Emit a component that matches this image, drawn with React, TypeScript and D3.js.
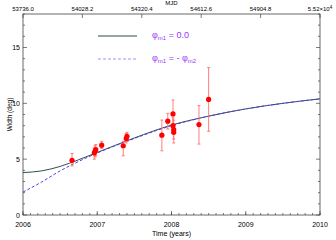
import React, { useEffect, useRef } from 'react';
import * as d3 from 'd3';

// model curves
const curveYears = [2006, 2006.25, 2006.5, 2006.75, 2007, 2007.5, 2008, 2008.5, 2009, 2009.5, 2010];
const solidWidth = [3.8, 3.95, 4.35, 4.95, 5.6, 6.9, 8.05, 8.85, 9.5, 10.0, 10.4];
const dashedWidth = [2.05, 2.95, 3.95, 4.8, 5.55, 6.85, 8.0, 8.85, 9.5, 10.0, 10.4];

// measured widths with error bars
const obsYear = [2006.66, 2006.96, 2006.97, 2006.98, 2007.06, 2007.35, 2007.39, 2007.4, 2007.87, 2007.95, 2008.02, 2008.02, 2008.03, 2008.03, 2008.37, 2008.5];
const obsWidth = [4.9, 5.55, 5.7, 5.85, 6.25, 6.2, 6.85, 7.05, 7.15, 8.4, 9.05, 8.0, 7.65, 7.4, 8.1, 10.35];
const obsLow = [4.4, 5.0, 5.2, 5.3, 5.95, 5.3, 6.45, 6.6, 5.75, 7.7, 7.6, 7.3, 6.45, 6.8, 6.35, 7.5];
const obsHigh = [5.5, 6.0, 6.2, 6.3, 6.6, 6.6, 7.3, 7.4, 8.5, 9.1, 10.3, 8.7, 8.5, 8.0, 9.8, 13.2];

const yearTicks = [2006, 2007, 2008, 2009, 2010];
const widthTicks = [0, 5, 10, 15];
const mjdTickLabels = ['53736.0', '54028.2', '54320.4', '54612.6', '54904.8'];

const App = () => {
  const svgRef = useRef<SVGSVGElement>(null);

  useEffect(() => {
    if (!svgRef.current) return;
    d3.select(svgRef.current).selectAll('*').remove();

    const width = 336;
    const height = 240;
    const margin = { top: 14, right: 16, bottom: 25, left: 23 };
    const font = 'Liberation Sans, Arial, Helvetica, sans-serif';
    const axisColor = '#444';

    const svg = d3.select(svgRef.current)
      .attr('width', width)
      .attr('height', height)
      .style('font-family', font);

    const x = d3.scaleLinear().domain([2006, 2010]).range([margin.left, width - margin.right]);
    const y = d3.scaleLinear().domain([0, 18]).range([height - margin.bottom, margin.top]);

    const x0 = x.range()[0], x1 = x.range()[1];
    const y0 = y.range()[0], y1 = y.range()[1];

    // frame
    svg.append('rect')
      .attr('x', x0).attr('y', y1)
      .attr('width', x1 - x0).attr('height', y0 - y1)
      .attr('fill', 'none')
      .attr('stroke', axisColor)
      .attr('stroke-width', 0.8);

    const ticks = svg.append('g').attr('stroke', axisColor).attr('stroke-width', 0.7);

    // bottom axis: years + minor ticks
    const minorX = d3.range(2006, 2010.001, 0.1);
    minorX.forEach(t => {
      ticks.append('line').attr('x1', x(t)).attr('x2', x(t)).attr('y1', y0).attr('y2', y0 - 2);
    });
    yearTicks.forEach(t => {
      ticks.append('line').attr('x1', x(t)).attr('x2', x(t)).attr('y1', y0).attr('y2', y0 - 4);
    });

    // top axis: MJD major ticks
    d3.range(0, 6).forEach(i => {
      const t = 2006 + (i * 4) / 5;
      ticks.append('line').attr('x1', x(t)).attr('x2', x(t)).attr('y1', y1).attr('y2', y1 + 4);
    });

    // left & right axes
    d3.range(0, 19).forEach(v => {
      const len = v % 5 === 0 ? 4 : 2;
      ticks.append('line').attr('x1', x0).attr('x2', x0 + len).attr('y1', y(v)).attr('y2', y(v));
      ticks.append('line').attr('x1', x1).attr('x2', x1 - len).attr('y1', y(v)).attr('y2', y(v));
    });

    // tick labels
    svg.selectAll('.xlab')
      .data(yearTicks)
      .join('text')
      .attr('class', 'xlab')
      .attr('x', d => x(d))
      .attr('y', y0 + 12)
      .attr('text-anchor', 'middle')
      .style('font-size', '7px')
      .text(d => d);

    svg.selectAll('.ylab')
      .data(widthTicks)
      .join('text')
      .attr('class', 'ylab')
      .attr('x', x0 - 3)
      .attr('y', d => y(d) + 2.5)
      .attr('text-anchor', 'end')
      .style('font-size', '7px')
      .text(d => d);

    svg.selectAll('.mjdlab')
      .data(mjdTickLabels)
      .join('text')
      .attr('class', 'mjdlab')
      .attr('x', (d, i) => x(2006 + (i * 4) / 5))
      .attr('y', y1 - 3)
      .attr('text-anchor', 'middle')
      .style('font-size', '6px')
      .text(d => d);

    const last = svg.append('text')
      .attr('x', x1)
      .attr('y', y1 - 3)
      .attr('text-anchor', 'middle')
      .style('font-size', '6px')
      .text('5.52×10');
    last.append('tspan').attr('dy', -2.5).style('font-size', '4.5px').text('4');

    // axis titles
    svg.append('text')
      .attr('x', (x0 + x1) / 2)
      .attr('y', 5)
      .attr('text-anchor', 'middle')
      .style('font-size', '6px')
      .text('MJD');

    svg.append('text')
      .attr('x', (x0 + x1) / 2)
      .attr('y', height - 4)
      .attr('text-anchor', 'middle')
      .style('font-size', '7px')
      .text('Time (years)');

    svg.append('text')
      .attr('transform', `translate(12,${(y0 + y1) / 2}) rotate(-90)`)
      .attr('text-anchor', 'middle')
      .style('font-size', '6.5px')
      .text('Width (deg)');

    // model curves
    const line = d3.line<number>()
      .x((d, i) => x(curveYears[i]))
      .y(d => y(d))
      .curve(d3.curveMonotoneX);

    svg.append('path')
      .attr('d', line(solidWidth))
      .attr('fill', 'none')
      .attr('stroke', '#2f4f4f')
      .attr('stroke-width', 1);

    svg.append('path')
      .attr('d', line(dashedWidth))
      .attr('fill', 'none')
      .attr('stroke', '#5a3ee0')
      .attr('stroke-width', 1)
      .attr('stroke-dasharray', '3,2');

    // error bars
    const errColor = '#ff7070';
    const idx = d3.range(obsYear.length);
    const eb = svg.append('g').attr('stroke', errColor).attr('stroke-width', 0.9);
    idx.forEach(i => {
      const cx = x(obsYear[i]);
      eb.append('line').attr('x1', cx).attr('x2', cx).attr('y1', y(obsLow[i])).attr('y2', y(obsHigh[i]));
      eb.append('line').attr('x1', cx - 1.5).attr('x2', cx + 1.5).attr('y1', y(obsLow[i])).attr('y2', y(obsLow[i]));
      eb.append('line').attr('x1', cx - 1.5).attr('x2', cx + 1.5).attr('y1', y(obsHigh[i])).attr('y2', y(obsHigh[i]));
    });

    svg.selectAll('.pt')
      .data(idx)
      .join('circle')
      .attr('class', 'pt')
      .attr('cx', i => x(obsYear[i]))
      .attr('cy', i => y(obsWidth[i]))
      .attr('r', 2.6)
      .attr('fill', '#ff0000');

    // legend
    const legColor = '#9933ff';
    svg.append('line')
      .attr('x1', 98).attr('x2', 137).attr('y1', 36).attr('y2', 36)
      .attr('stroke', '#2f4f4f').attr('stroke-width', 1);
    svg.append('line')
      .attr('x1', 98).attr('x2', 137).attr('y1', 59).attr('y2', 59)
      .attr('stroke', '#a98cff').attr('stroke-width', 1).attr('stroke-dasharray', '3,2');

    const leg1 = svg.append('text').attr('x', 152).attr('y', 38).attr('fill', legColor).style('font-size', '9px');
    leg1.append('tspan').text('φ');
    leg1.append('tspan').attr('dy', 2).style('font-size', '6px').text('m1');
    leg1.append('tspan').attr('dy', -2).text(' = 0.0');

    const leg2 = svg.append('text').attr('x', 152).attr('y', 61).attr('fill', legColor).style('font-size', '9px');
    leg2.append('tspan').text('φ');
    leg2.append('tspan').attr('dy', 2).style('font-size', '6px').text('m1');
    leg2.append('tspan').attr('dy', -2).text(' = - φ');
    leg2.append('tspan').attr('dy', 2).style('font-size', '6px').text('m2');
  }, []);

  return (
    <svg ref={svgRef} style={{ position: 'absolute', left: 0, top: 0, display: 'block' }} />
  );
};

export default App;
